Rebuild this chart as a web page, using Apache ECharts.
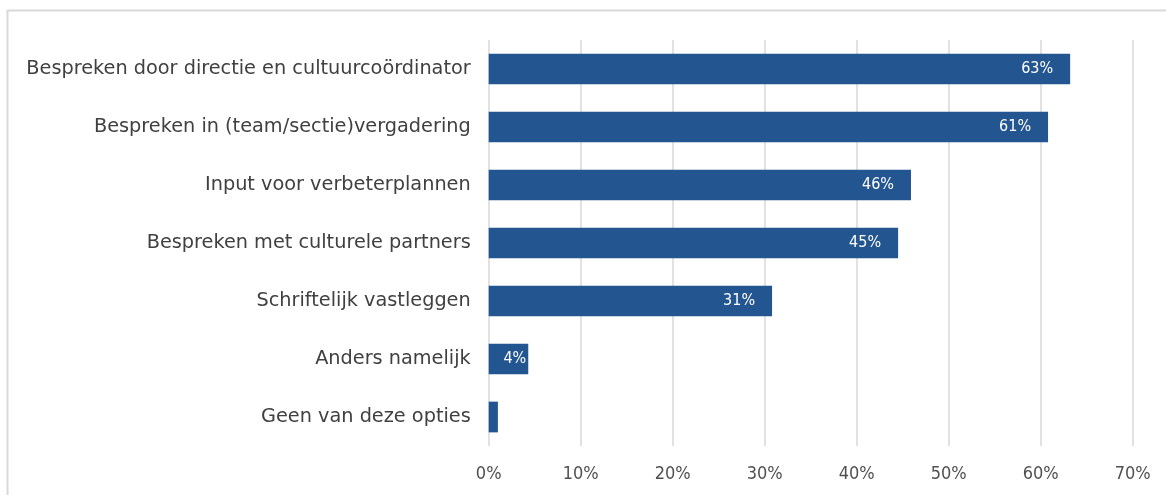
<!DOCTYPE html>
<html>
<head>
<meta charset="utf-8">
<script src="https://cdn.jsdelivr.net/npm/echarts@6/dist/echarts.min.js"></script>
<style>
  html, body { margin: 0; padding: 0; background: #ffffff; }
  #chart { width: 1166px; height: 495px; }
</style>
</head>
<body>
<div id="chart"></div>
<script>
// Categories, top to bottom
const categories = [
  'Bespreken door directie en cultuurcoördinator',
  'Bespreken in (team/sectie)vergadering',
  'Input voor verbeterplannen',
  'Bespreken met culturele partners',
  'Schriftelijk vastleggen',
  'Anders namelijk',
  'Geen van deze opties'
];
// Share of respondents (%)
const values = [63.2, 60.8, 45.9, 44.5, 30.8, 4.3, 1.0];
// Bars whose value label is shown
const showLabel = [true, true, true, true, true, true, false];
// X axis ticks
const xTicks = [0, 10, 20, 30, 40, 50, 60, 70];

const textFont = 'DejaVu Sans';
const numberFont = "'DejaVu Sans Condensed', 'DejaVu Sans', sans-serif";
const chart = echarts.init(document.getElementById('chart'));

chart.setOption({
  animation: false,
  backgroundColor: '#ffffff',
  graphic: [{
    type: 'rect',
    shape: { x: 7.5, y: 10.5, width: 1200, height: 520 },
    style: { fill: 'none', stroke: '#d9d9d9', lineWidth: 2 },
    silent: true
  }],
  grid: { left: 488.7, right: 33.3, top: 40, bottom: 49, containLabel: false },
  xAxis: {
    type: 'value',
    min: xTicks[0],
    max: xTicks[xTicks.length - 1],
    interval: 10,
    axisLine: { show: false },
    axisTick: { show: false },
    splitLine: { show: true, lineStyle: { color: '#d9d9d9', width: 1.5 } },
    axisLabel: {
      formatter: v => v + '%',
      color: '#505050',
      fontFamily: numberFont,
      fontSize: 18,
      margin: 19
    }
  },
  yAxis: {
    type: 'category',
    data: categories,
    inverse: true,
    axisLine: { show: false },
    axisTick: { show: false },
    axisLabel: {
      color: '#404040',
      fontFamily: textFont,
      fontSize: 19.3,
      margin: 18
    }
  },
  series: [{
    type: 'bar',
    data: values.map((v, i) => ({
      value: v,
      // short bars keep their label tight against the bar end
      label: { show: showLabel[i], distance: v < 10 ? 2 : 17 }
    })),
    barWidth: '53%',
    itemStyle: { color: '#235591' },
    label: {
      position: 'insideRight',
      color: '#ffffff',
      fontFamily: numberFont,
      fontSize: 16,
      formatter: p => Math.round(p.value) + '%'
    }
  }]
});
</script>
</body>
</html>
